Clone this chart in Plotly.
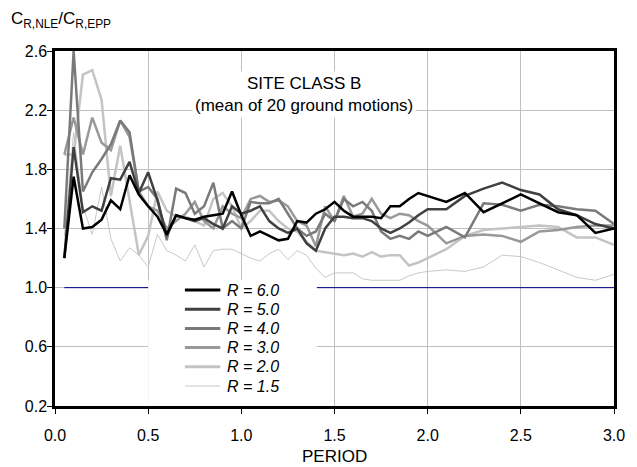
import plotly.graph_objects as go

# Periods (s)
period = [0.05, 0.10, 0.15, 0.20, 0.25, 0.30, 0.35, 0.40, 0.45, 0.50,
          0.55, 0.60, 0.65, 0.70, 0.75, 0.80, 0.85, 0.90, 0.95, 1.00,
          1.05, 1.10, 1.15, 1.20, 1.25, 1.30, 1.35, 1.40, 1.45, 1.50,
          1.55, 1.60, 1.65, 1.70, 1.75, 1.80, 1.85, 1.90, 1.95, 2.00,
          2.10, 2.20, 2.30, 2.40, 2.50, 2.60, 2.70, 2.80, 2.90, 3.00]

r60 = [1.20, 1.75, 1.40, 1.41, 1.46, 1.59, 1.53, 1.76, 1.63, 1.55,
       1.48, 1.36, 1.49, 1.47, 1.46, 1.48, 1.49, 1.50, 1.65, 1.49,
       1.35, 1.38, 1.35, 1.32, 1.33, 1.45, 1.44, 1.50, 1.53, 1.58,
       1.52, 1.48, 1.48, 1.48, 1.47, 1.55, 1.55, 1.60, 1.64, 1.62,
       1.58, 1.64, 1.51, 1.57, 1.63, 1.57, 1.51, 1.49, 1.37, 1.40]

r50 = [1.20, 1.95, 1.51, 1.55, 1.52, 1.74, 1.73, 1.85, 1.64, 1.78,
       1.59, 1.35, 1.49, 1.47, 1.45, 1.47, 1.43, 1.40, 1.55, 1.50,
       1.52, 1.55, 1.45, 1.40, 1.37, 1.40, 1.30, 1.25, 1.40, 1.48,
       1.48, 1.47, 1.47, 1.45, 1.40, 1.37, 1.40, 1.44, 1.49, 1.53,
       1.53, 1.62, 1.67, 1.71, 1.66, 1.63, 1.53, 1.49, 1.43, 1.40]

r40 = [1.40, 2.60, 1.65, 1.78, 1.87, 1.97, 2.13, 2.05, 1.65, 1.68,
       1.60, 1.32, 1.67, 1.64, 1.50, 1.55, 1.71, 1.40, 1.45, 1.40,
       1.58, 1.57, 1.57, 1.60, 1.50, 1.40, 1.35, 1.38, 1.50, 1.45,
       1.60, 1.55, 1.58, 1.52, 1.38, 1.33, 1.35, 1.33, 1.38, 1.35,
       1.41, 1.34, 1.57, 1.56, 1.52, 1.56, 1.55, 1.53, 1.52, 1.43]

r30 = [1.90, 2.15, 1.90, 2.15, 1.98, 1.93, 2.13, 2.02, 1.65, 1.55,
       1.52, 1.40, 1.45, 1.50, 1.58, 1.45, 1.40, 1.55, 1.50, 1.47,
       1.60, 1.62, 1.58, 1.59, 1.55, 1.45, 1.42, 1.28, 1.55, 1.45,
       1.62, 1.48, 1.50, 1.60, 1.50, 1.47, 1.50, 1.49, 1.45, 1.42,
       1.30, 1.35, 1.36, 1.35, 1.31, 1.38, 1.39, 1.41, 1.42, 1.42]

r20 = [1.90, 1.90, 2.44, 2.47, 2.27, 1.62, 1.96, 1.60, 1.22, 1.35,
       1.65, 1.52, 1.48, 1.48, 1.45, 1.42, 1.60, 1.64, 1.55, 1.40,
       1.45, 1.52, 1.52, 1.45, 1.40, 1.38, 1.31, 1.25, 1.24, 1.23,
       1.22, 1.23, 1.21, 1.24, 1.21, 1.22, 1.22, 1.15, 1.17, 1.20,
       1.26, 1.35, 1.39, 1.40, 1.41, 1.42, 1.41, 1.34, 1.34, 1.29]

r15 = [1.35, 2.05, 1.55, 1.36, 1.68, 1.33, 1.18, 1.27, 1.22, 1.14,
       1.36, 1.25, 1.22, 1.18, 1.29, 1.14, 1.25, 1.26, 1.26, 1.23,
       1.20, 1.18, 1.23, 1.26, 1.19, 1.25, 1.22, 1.13, 1.07, 1.10,
       1.10, 1.10, 1.06, 1.05, 1.05, 1.05, 1.05, 1.08, 1.10, 1.11,
       1.12, 1.11, 1.14, 1.22, 1.21, 1.17, 1.12, 1.07, 1.05, 1.09]

series_names = ["R = 6.0", "R = 5.0", "R = 4.0", "R = 3.0", "R = 2.0", "R = 1.5"]
series_values = [r60, r50, r40, r30, r20, r15]
series_colors = ["#000000", "#404040", "#7a7a7a", "#999999", "#c4c4c4", "#c8c8c8"]
series_widths = [2.5, 2.5, 2.5, 2.5, 2.5, 1.0]

x_ticks = [0.0, 0.5, 1.0, 1.5, 2.0, 2.5, 3.0]
y_ticks = [0.2, 0.6, 1.0, 1.4, 1.8, 2.2, 2.6]
ref_value = 1.0

FONT = "Liberation Sans, Arial, sans-serif"

W, H = 637, 467
ML, MR, MT, MB = 55, 14, 51, 61
PW, PH = W - ML - MR, H - MT - MB


def px_x(px):
    return (px - ML) / PW


def px_y(py):
    return (H - MB - py) / PH


fig = go.Figure()
# draw lightest first so black is on top
for name, vals, col, w in reversed(list(zip(series_names, series_values, series_colors, series_widths))):
    fig.add_trace(go.Scatter(x=period, y=vals, mode="lines", name=name,
                             line=dict(color=col, width=w), showlegend=False))

shapes = [
    dict(type="line", xref="x", yref="y", x0=period[0], x1=period[-1],
         y0=ref_value, y1=ref_value, line=dict(color="#000080", width=1),
         layer="between"),
    dict(type="rect", xref="x", yref="y", x0=0.5, x1=1.405, y0=0.2, y1=1.05,
         fillcolor="white", line=dict(width=0), layer="between"),
]
annotations = [
    dict(text="SITE CLASS B<br>(mean of 20 ground motions)",
         xref="paper", yref="paper", x=px_x(308), y=px_y(95),
         xanchor="center", yanchor="middle", showarrow=False,
         font=dict(family=FONT, size=17), bgcolor="white", borderpad=2),
    dict(text="C<sub>R,NLE</sub>/C<sub>R,EPP</sub>",
         xref="paper", yref="paper", x=px_x(8), y=px_y(20),
         xanchor="left", yanchor="middle", showarrow=False,
         font=dict(family=FONT, size=17)),
    dict(text="PERIOD", xref="paper", yref="paper", x=0.5, y=px_y(456),
         xanchor="center", yanchor="middle", showarrow=False,
         font=dict(family=FONT, size=17)),
]

# legend (drawn manually to match row spacing)
for i, (name, col, w) in enumerate(zip(series_names, series_colors, series_widths)):
    yrow = 290 + i * 19.2
    shapes.append(dict(type="line", xref="paper", yref="paper",
                       x0=px_x(187), x1=px_x(223), y0=px_y(yrow), y1=px_y(yrow),
                       line=dict(color=col, width=w + 0.5 if w > 1 else w), layer="above"))
    annotations.append(dict(text="<i>" + name + "</i>", xref="paper", yref="paper",
                            x=px_x(228), y=px_y(yrow), xanchor="left", yanchor="middle",
                            showarrow=False, font=dict(family=FONT, size=16)))

fig.update_layout(
    width=W, height=H,
    margin=dict(l=ML, r=MR, t=MT, b=MB),
    paper_bgcolor="white", plot_bgcolor="white",
    font=dict(family=FONT, size=16, color="black"),
    showlegend=False,
    xaxis=dict(range=[0, 3.0], tickvals=x_ticks, tickformat=".1f",
               showgrid=True, gridcolor="#c0c0c0", gridwidth=1,
               showline=True, linecolor="black", linewidth=2.5, mirror=True,
               ticks="outside", ticklen=5, tickcolor="black", tickwidth=1,
               ticklabelstandoff=8, zeroline=False,
               tickfont=dict(size=16)),
    yaxis=dict(range=[0.2, 2.6], tickvals=y_ticks, tickformat=".1f",
               showgrid=True, gridcolor="#c0c0c0", gridwidth=1,
               showline=True, linecolor="black", linewidth=2.5, mirror=True,
               ticks="outside", ticklen=5, tickcolor="black", tickwidth=1,
               ticklabelstandoff=-3, zeroline=False, tickfont=dict(size=16)),
    shapes=shapes,
    annotations=annotations,
)

fig.write_html("out.html", config={"displayModeBar": False},
               post_script="document.body.style.margin='0px';")
